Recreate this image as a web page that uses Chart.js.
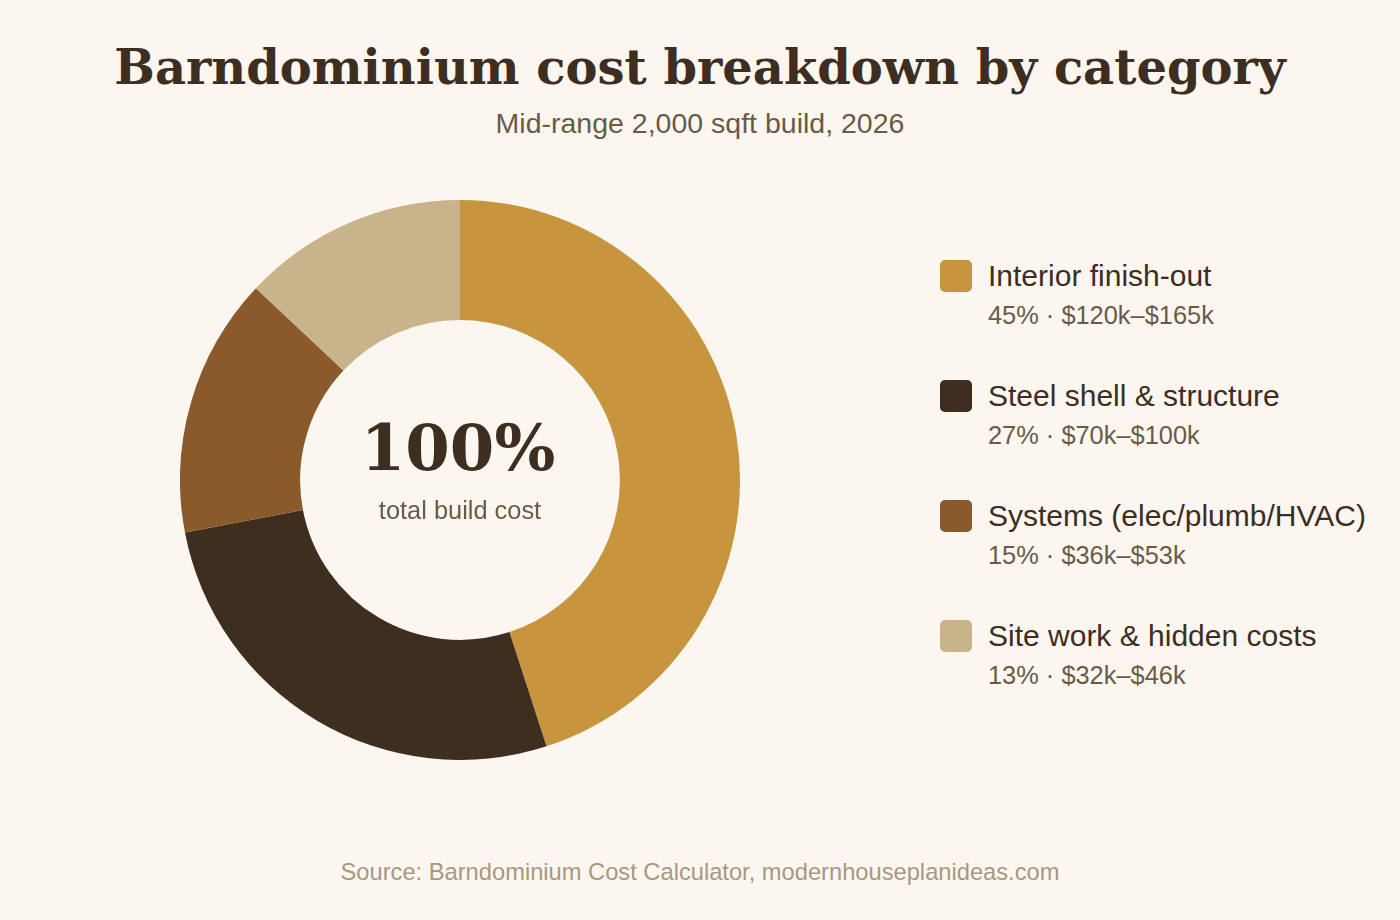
<!DOCTYPE html>
<html>
<head>
<meta charset="utf-8">
<script src="https://cdn.jsdelivr.net/npm/chart.js@4"></script>
<style>
  html, body { margin: 0; padding: 0; }
  body { width: 1400px; height: 920px; background: #fbf7f0; position: relative; overflow: hidden;
         font-family: "Liberation Sans", Arial, sans-serif; }
  h1 { position: absolute; top: 37px; left: 0; width: 1400px; margin: 0; text-align: center;
       font-family: "DejaVu Serif", serif; font-weight: bold; font-size: 48px; color: #3d2e1f; line-height: 60px; }
  .sub { position: absolute; top: 106px; left: 0; width: 1400px; text-align: center;
         font-size: 28.5px; color: #6b5a45; line-height: 34px; }
  #wrap { position: absolute; left: 180px; top: 200px; width: 560px; height: 560px; }
  #legend { position: absolute; left: 940px; top: 258px; }
  .item { position: relative; height: 120px; }
  .sw { position: absolute; left: 0; top: 2px; width: 32px; height: 32px; border-radius: 5px; }
  .lab { position: absolute; left: 48px; top: 0; font-size: 30px; color: #3d2e1f; white-space: nowrap; line-height: 36px; }
  .val { position: absolute; left: 48px; top: 42px; font-size: 25.4px; color: #6b5a45; white-space: nowrap; line-height: 30px; }
  .src { position: absolute; top: 857px; left: 0; width: 1400px; text-align: center;
         font-size: 23.7px; color: #a89880; line-height: 30px; }
</style>
</head>
<body>
<h1>Barndominium cost breakdown by category</h1>
<div class="sub">Mid-range 2,000 sqft build, 2026</div>
<div id="wrap"><canvas id="myChart"></canvas></div>
<div id="legend"></div>
<div class="src">Source: Barndominium Cost Calculator, modernhouseplanideas.com</div>
<script>
var categories = ['Interior finish-out', 'Steel shell & structure', 'Systems (elec/plumb/HVAC)', 'Site work & hidden costs'];
var shares = [45, 27, 15, 13];
var ranges = ['$120k\u2013$165k', '$70k\u2013$100k', '$36k\u2013$53k', '$32k\u2013$46k'];
var colors = ['#c6953e', '#3d2e1f', '#8a5a2c', '#c9b38a'];

var centerText = {
    id: 'centerText',
    afterDraw: function(chart) {
        var ctx = chart.ctx;
        var arc = chart.getDatasetMeta(0).data[0];
        ctx.save();
        ctx.textAlign = 'center';
        ctx.textBaseline = 'alphabetic';
        ctx.fillStyle = '#3d2e1f';
        ctx.font = 'bold 64px "DejaVu Serif", serif';
        ctx.fillText('100%', arc.x - 2, arc.y - 10);
        ctx.fillStyle = '#6b5a45';
        ctx.font = '25.4px "Liberation Sans", Arial, sans-serif';
        ctx.fillText('total build cost', arc.x, arc.y + 39);
        ctx.restore();
    }
};

var data = {
    labels: categories,
    datasets: [{
        data: shares,
        backgroundColor: colors,
        borderWidth: 0,
    }]
};

var config = {
    type: 'doughnut',
    data: data,
    options: {
        responsive: true,
        maintainAspectRatio: false,
        animation: false,
        cutout: '57.1%',
        plugins: {
            legend: { display: false },
            tooltip: { enabled: false }
        }
    },
    plugins: [centerText]
};

var myChart = new Chart(document.getElementById('myChart'), config);

var legend = document.getElementById('legend');
for (var i = 0; i < categories.length; i++) {
    var item = document.createElement('div');
    item.className = 'item';
    item.innerHTML = '<div class="sw" style="background:' + colors[i] + '"></div>' +
        '<div class="lab"></div><div class="val"></div>';
    item.querySelector('.lab').textContent = categories[i];
    item.querySelector('.val').textContent = shares[i] + '% \u00b7 ' + ranges[i];
    legend.appendChild(item);
}
</script>
</body>
</html>
